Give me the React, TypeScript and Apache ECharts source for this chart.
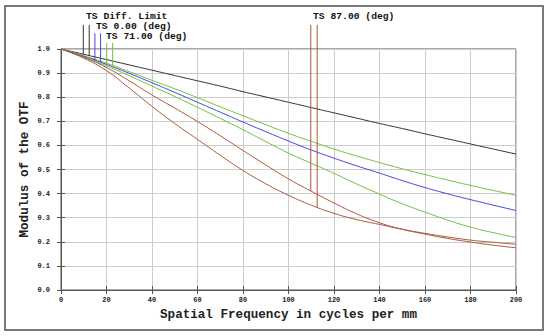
import React, { useEffect, useRef } from "react";
import * as echarts from "echarts";

const freqs = [0, 10, 20, 30, 40, 50, 60, 70, 80, 90, 100, 110, 120, 130, 140, 150, 160, 170, 180, 190, 200];
const xTicks = ["0", "20", "40", "60", "80", "100", "120", "140", "160", "180", "200"];

const diffLimit = [1.0, 0.978, 0.956, 0.934, 0.912, 0.89, 0.868, 0.846, 0.823, 0.801, 0.779, 0.757, 0.735, 0.713, 0.691, 0.67, 0.648, 0.627, 0.606, 0.585, 0.564];
const ts0 = [1.0, 0.97, 0.936, 0.899, 0.86, 0.82, 0.779, 0.738, 0.697, 0.657, 0.618, 0.581, 0.547, 0.515, 0.485, 0.454, 0.425, 0.399, 0.375, 0.352, 0.33];
const ts71a = [1.0, 0.972, 0.941, 0.906, 0.87, 0.835, 0.798, 0.76, 0.723, 0.686, 0.65, 0.617, 0.585, 0.556, 0.529, 0.503, 0.479, 0.456, 0.434, 0.413, 0.393];
const ts71b = [1.0, 0.967, 0.93, 0.889, 0.846, 0.803, 0.758, 0.712, 0.665, 0.616, 0.568, 0.526, 0.484, 0.44, 0.398, 0.358, 0.323, 0.29, 0.261, 0.238, 0.218];
const ts87a = [1.0, 0.966, 0.923, 0.868, 0.809, 0.755, 0.699, 0.64, 0.579, 0.519, 0.461, 0.41, 0.361, 0.316, 0.279, 0.252, 0.232, 0.214, 0.199, 0.186, 0.175];
const ts87b = [1.0, 0.962, 0.91, 0.838, 0.762, 0.691, 0.625, 0.559, 0.496, 0.441, 0.393, 0.352, 0.318, 0.292, 0.272, 0.252, 0.235, 0.22, 0.207, 0.198, 0.19];

const markerFreqs = [9.8, 12.4, 14.9, 17.4, 20.1, 22.7, 109.8, 112.6];
const markerBase = [0.978, 0.972, 0.953, 0.944, 0.94, 0.92, 0.41, 0.343];
const markerTop = [1.1, 1.1, 1.065, 1.065, 1.025, 1.025, 1.1, 1.1];

const labelTexts = ["TS Diff. Limit", "TS 0.00 (deg)", "TS 71.00 (deg)", "TS 87.00 (deg)"];

const BLACK = "#333333";
const BLUE = "#4646e0";
const GREEN = "#72c040";
const BROWN = "#a85a3c";
const markerColors = [BLACK, BLACK, BLUE, BLUE, GREEN, GREEN, BROWN, BROWN];

const MONO = "'Liberation Mono', 'DejaVu Sans Mono', monospace";

export default function App() {
  const ref = useRef<HTMLDivElement>(null);
  useEffect(() => {
    if (!ref.current) return;
    const chart = echarts.init(ref.current, null, { renderer: "svg" });
    const curve = (name: string, vals: number[], color: string) => ({
      type: "line",
      name,
      data: freqs.map((f, i) => [f, vals[i]]),
      showSymbol: false,
      smooth: 0.5,
      lineStyle: { color, width: 1 },
      itemStyle: { color },
      z: 3,
    });
    const markers = markerFreqs.map((f, i) => ({
      type: "line",
      data: [[f, markerBase[i]], [f, markerTop[i]]],
      showSymbol: false,
      clip: false,
      lineStyle: { color: markerColors[i], width: 1 },
      itemStyle: { color: markerColors[i] },
      z: 4,
    }));
    const tickLabel = { fontFamily: MONO, fontWeight: "bold", fontSize: 7, color: "#222" };
    chart.setOption({
      animation: false,
      backgroundColor: "#ffffff",
      grid: { left: 61, right: 34, top: 49, bottom: 46, show: true, borderColor: "#555", borderWidth: 1 },
      xAxis: [
        {
          type: "value", min: 0, max: 200, interval: 20,
          name: "Spatial Frequency in cycles per mm",
          nameLocation: "middle", nameGap: 18, nameMoveOverlap: false,
          nameTextStyle: { fontFamily: MONO, fontWeight: "bold", fontSize: 12.6, color: "#222" },
          axisLine: { lineStyle: { color: "#555" } },
          axisTick: { inside: true, length: 4, lineStyle: { color: "#555" } },
          axisLabel: { ...tickLabel, margin: 6, formatter: (v: number) => xTicks[Math.round(v / 20)] },
          splitLine: { show: true, lineStyle: { color: "#cccccc" } },
        },
        {
          type: "value", min: 0, max: 200, interval: 20, position: "top",
          axisLine: { lineStyle: { color: "#555" } },
          axisTick: { inside: true, length: 4, lineStyle: { color: "#555" } },
          axisLabel: { show: false }, splitLine: { show: false },
        },
      ],
      yAxis: [
        {
          type: "value", min: 0, max: 1, interval: 0.1,
          name: "Modulus of the OTF",
          nameLocation: "middle", nameGap: 30, nameRotate: 90, nameMoveOverlap: false,
          nameTextStyle: { fontFamily: MONO, fontWeight: "bold", fontSize: 12.6, color: "#222" },
          axisLine: { show: true, lineStyle: { color: "#555" } },
          axisTick: { show: true, inside: true, length: 4, lineStyle: { color: "#555" } },
          axisLabel: { ...tickLabel, margin: 11, formatter: (v: number) => v.toFixed(1) },
          splitLine: { show: true, lineStyle: { color: "#cccccc" } },
        },
        {
          type: "value", min: 0, max: 1, interval: 0.1, position: "right",
          axisLine: { show: true, lineStyle: { color: "#555" } },
          axisTick: { show: true, inside: true, length: 4, lineStyle: { color: "#555" } },
          axisLabel: { show: false }, splitLine: { show: false },
        },
      ],
      series: [
        curve("TS Diff. Limit", diffLimit, BLACK),
        curve("TS 71.00 (deg) T", ts71a, GREEN),
        curve("TS 0.00 (deg)", ts0, BLUE),
        curve("TS 71.00 (deg) S", ts71b, GREEN),
        curve("TS 87.00 (deg) T", ts87a, BROWN),
        curve("TS 87.00 (deg) S", ts87b, BROWN),
        ...markers,
      ],
      graphic: [
        { type: "rect", shape: { x: 5, y: 6, width: 538, height: 324 }, style: { fill: "none", stroke: "#7a7a7a", lineWidth: 2 }, silent: true },
        { type: "text", x: 86, y: 11, style: { text: labelTexts[0], font: `bold 9.7px ${MONO}`, fill: "#111" } },
        { type: "text", x: 96, y: 21, style: { text: labelTexts[1], font: `bold 9.7px ${MONO}`, fill: "#111" } },
        { type: "text", x: 106, y: 31, style: { text: labelTexts[2], font: `bold 9.7px ${MONO}`, fill: "#111" } },
        { type: "text", x: 313, y: 11, style: { text: labelTexts[3], font: `bold 9.7px ${MONO}`, fill: "#111" } },
      ],
    });
    return () => chart.dispose();
  }, []);
  return <div ref={ref} style={{ position: "absolute", left: 0, top: 0, width: 550, height: 336 }} />;
}
